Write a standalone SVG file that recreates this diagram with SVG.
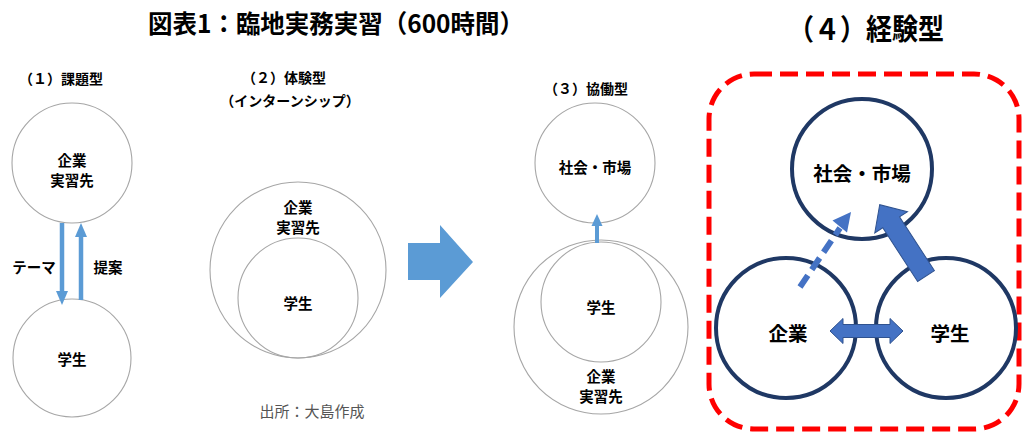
<svg xmlns="http://www.w3.org/2000/svg" width="1024" height="434" viewBox="0 0 1024 434">
<style>
text{font-family:"Noto Sans CJK JP","Noto Sans",sans-serif;font-weight:bold;fill:#000;text-anchor:middle;dominant-baseline:central}
.lbl{font-size:14px}
.n1{font-size:14.5px}
.n4{font-size:19.5px}
.thin{fill:none;stroke:#A6A6A6;stroke-width:1.1}
.dark{fill:none;stroke:#1F3864;stroke-width:4}
.lb{stroke:#5B9BD5;fill:none}
.lbf{fill:#5B9BD5}
.db{fill:#4472C4;stroke:#2F528F;stroke-width:1}
</style>
<rect width="1024" height="434" fill="#fff"/>
<text x="336" y="22" style="font-size:25px" textLength="376" lengthAdjust="spacingAndGlyphs">図表1：臨地実務実習（600時間）</text>
<text x="866" y="27" style="font-size:29px" textLength="156" lengthAdjust="spacingAndGlyphs">（４）経験型</text>

<g id="type1">
<text class="lbl" x="61" y="78">（１）課題型</text>
<g id="t1-company"><circle class="thin" cx="72" cy="163" r="60"/><text class="n1" x="72" y="159">企業</text><text class="n1" x="72" y="179">実習先</text></g>
<g id="t1-student"><circle class="thin" cx="72" cy="358" r="59"/><text class="n1" x="72" y="358">学生</text></g>
<text class="n1" x="34" y="266">テーマ</text>
<text class="n1" x="108" y="266">提案</text>
</g>

<g id="type2">
<text class="lbl" x="284" y="77">（２）体験型</text>
<text class="lbl" x="290" y="100">（インターンシップ）</text>
<g id="t2-company"><circle class="thin" cx="298" cy="270" r="88"/><text class="n1" x="298" y="206">企業</text><text class="n1" x="298" y="226">実習先</text></g>
<g id="t2-student"><circle class="thin" cx="298" cy="298" r="60"/><text class="n1" x="298" y="302">学生</text></g>
<text x="312" y="412" style="font-weight:normal;font-size:15px;fill:#555;font-family:'Liberation Serif','Noto Sans CJK JP',serif">出所：大島作成</text>
</g>

<g id="type3">
<text class="lbl" x="586" y="88">（３）協働型</text>
<g id="t3-market"><circle class="thin" cx="595" cy="163" r="60"/><text class="n1" x="595" y="166">社会・市場</text></g>
<g id="t3-company"><circle class="thin" cx="601" cy="327" r="87"/><text class="n1" x="601" y="375">企業</text><text class="n1" x="601" y="395">実習先</text></g>
<g id="t3-student"><circle class="thin" cx="601" cy="302" r="60"/><text class="n1" x="601" y="306">学生</text></g>
</g>

<g id="type4">
<rect x="709" y="74" width="310" height="355" rx="45" fill="none" stroke="#FF0000" stroke-width="5" stroke-dasharray="18 8"/>
<g id="t4-market"><circle class="dark" cx="862" cy="169" r="70"/><text class="n4" x="862" y="172">社会・市場</text></g>
<g id="t4-company"><circle class="dark" cx="786" cy="328" r="70"/><text class="n4" x="788" y="332">企業</text></g>
<g id="t4-student"><circle class="dark" cx="946" cy="328" r="70"/><text class="n4" x="950" y="332">学生</text></g>
</g>

<g id="connectors">
<line class="lb" x1="62" y1="223" x2="62" y2="292" stroke-width="4.5"/>
<polygon class="lbf" points="56,291 68,291 62,305"/>
<line class="lb" x1="81" y1="300" x2="81" y2="236" stroke-width="4.5"/>
<polygon class="lbf" points="75,237 87,237 81,223"/>
<polygon class="lbf" points="408,243 440,243 440,225 473,262 440,298 440,280 408,280"/>
<line class="lb" x1="597" y1="243" x2="597" y2="225" stroke-width="4"/>
<polygon class="lbf" points="591.5,226 602.5,226 597,214"/>
<polygon class="db" points="830,331 843,318.5 843,324.5 890,324.5 890,318.5 903,331 890,343.5 890,337.5 843,337.5 843,343.5"/>
<polygon class="db" transform="translate(926,276) rotate(-123)" points="0,-10 64,-10 64,-19.5 85,0 64,19.5 64,10 0,10"/>
<line x1="800" y1="287" x2="840" y2="228" stroke="#4472C4" stroke-width="6" stroke-dasharray="14 7"/>
<polygon fill="#4472C4" points="851,212 832.5,220.5 847,232.5"/>
</g>
</svg>
